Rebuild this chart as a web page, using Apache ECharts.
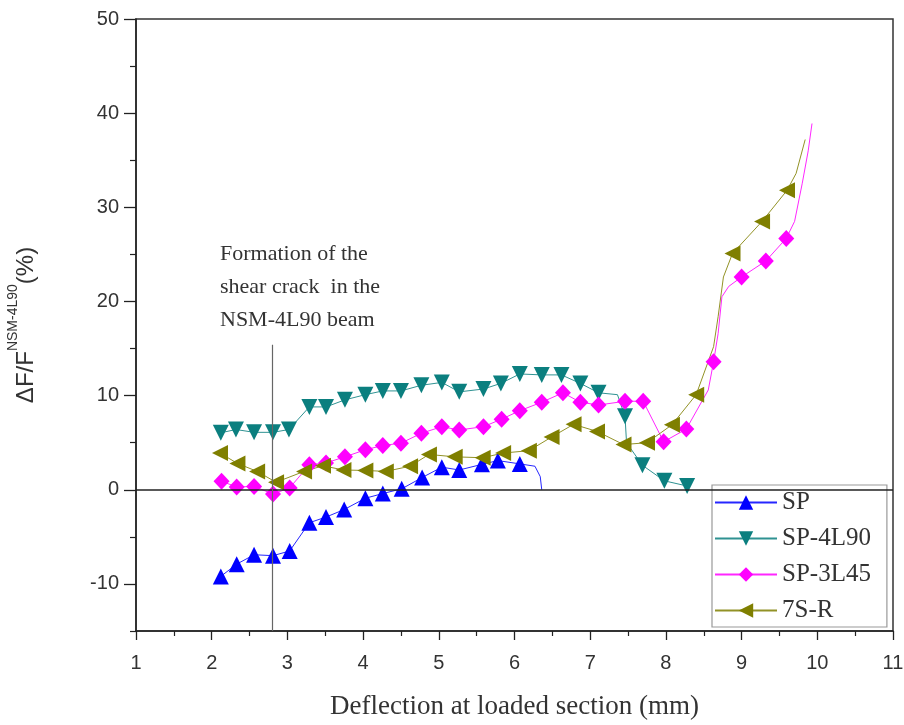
<!DOCTYPE html>
<html><head><meta charset="utf-8">
<script src="https://cdn.jsdelivr.net/npm/echarts@6/dist/echarts.min.js"></script>
<style>html,body{margin:0;padding:0;background:#fff}#c{width:904px;height:725px}</style>
</head><body><div id="c"></div>
<script>
// ---- data ----
const seriesNames = ['SP', 'SP-4L90', 'SP-3L45', '7S-R'];

// SP (marked points + extra curve points)
const spX = [2.12, 2.33, 2.56, 2.81, 3.03, 3.29, 3.51, 3.75, 4.03, 4.26, 4.51, 4.78, 5.04, 5.27, 5.57, 5.78, 6.07];
const spY = [-9.2, -7.9, -6.9, -7.0, -6.5, -3.5, -2.9, -2.1, -0.9, -0.4, 0.1, 1.3, 2.4, 2.1, 2.7, 3.1, 2.75];
const spCurveX = [6.27, 6.34, 6.36];
const spCurveY = [2.5, 1.4, 0.0];

// SP-4L90
const s4X = [2.12, 2.32, 2.56, 2.81, 3.02, 3.29, 3.51, 3.76, 4.03, 4.26, 4.50, 4.77, 5.04, 5.27, 5.59, 5.82, 6.07, 6.36, 6.62, 6.87, 7.11, 7.46, 7.69, 7.98, 8.28];
const s4Y = [6.05, 6.4, 6.1, 6.1, 6.4, 8.8, 8.8, 9.55, 10.1, 10.5, 10.5, 11.1, 11.4, 10.4, 10.7, 11.3, 12.3, 12.2, 12.2, 11.3, 10.3, 7.8, 2.6, 0.95, 0.4];
const s4CurveX = [7.36, 7.48];
const s4CurveY = [10.1, 5.0];

// SP-3L45
const s3X = [2.13, 2.33, 2.56, 2.81, 3.03, 3.29, 3.51, 3.76, 4.03, 4.26, 4.50, 4.77, 5.04, 5.27, 5.59, 5.83, 6.07, 6.36, 6.64, 6.87, 7.11, 7.46, 7.70, 7.97, 8.27, 8.63, 9.00, 9.32, 9.59];
const s3Y = [0.9, 0.3, 0.35, -0.45, 0.2, 2.65, 2.85, 3.5, 4.25, 4.7, 4.95, 6.0, 6.7, 6.35, 6.7, 7.5, 8.4, 9.3, 10.3, 9.3, 9.0, 9.4, 9.4, 5.1, 6.45, 13.6, 22.6, 24.3, 26.7];
const s3CurveX = [8.56, 8.69, 8.74, 8.83, 9.70, 9.80, 9.88, 9.93];
const s3CurveY = [10.6, 16.6, 20.5, 21.6, 28.5, 32.5, 36.0, 38.9];

// 7S-R
const s7X = [2.11, 2.34, 2.60, 2.85, 3.22, 3.47, 3.74, 4.03, 4.30, 4.62, 4.87, 5.21, 5.58, 5.85, 6.19, 6.49, 6.78, 7.09, 7.44, 7.75, 8.08, 8.40, 8.88, 9.27, 9.60];
const s7Y = [3.9, 2.8, 1.95, 0.8, 1.95, 2.55, 2.1, 2.05, 1.95, 2.5, 3.75, 3.5, 3.4, 3.9, 4.15, 5.6, 6.95, 6.2, 4.8, 5.0, 6.9, 10.1, 25.1, 28.5, 31.8];
const s7CurveX = [8.63, 8.69, 8.76, 9.72, 9.84];
const s7CurveY = [15.2, 18.4, 22.6, 33.6, 37.2];

// axes
const xTickValues = [1, 2, 3, 4, 5, 6, 7, 8, 9, 10, 11];
const yLabelValues = [-10, 0, 10, 20, 30, 40, 50];
const yMinorValues = [-15, -5, 5, 15, 25, 35, 45];
const crackX = 2.8;
const crackTop = 15.4;
const annotation = ['Formation of the', 'shear crack  in the', 'NSM-4L90 beam'];

// ---- build ----
function pts(xs, ys) { return xs.map((x, i) => [x, ys[i]]); }
function makeSeries(name, mx, my, cx, cy, color, symbol, rotate, size, extra) {
  const marks = pts(mx, my);
  const path = marks.concat(pts(cx, cy)).sort((a, b) => a[0] - b[0]);
  const line = {
    type: 'line', name: name, data: path, showSymbol: false,
    symbol: symbol, symbolRotate: rotate, symbolSize: size,
    lineStyle: { color: color, width: 1, opacity: 0.85 },
    itemStyle: { color: color }, z: 2, silent: true
  };
  Object.assign(line, extra || {});
  const sc = {
    type: 'scatter', name: name, data: marks, symbol: symbol,
    symbolRotate: rotate, symbolSize: size, itemStyle: { color: color, opacity: 1 }, z: 3, silent: true
  };
  return [line, sc];
}

const series = [].concat(
  makeSeries(seriesNames[0], spX, spY, spCurveX, spCurveY, '#0000ff', 'triangle', 0, 16, {
    markLine: {
      silent: true, symbol: 'none', label: { show: false }, animation: false,
      data: [
        [{ coord: [1, 0], lineStyle: { color: '#222', width: 1.6, type: 'solid' } }, { coord: [11, 0] }],
        [{ coord: [crackX, crackTop], lineStyle: { color: '#666', width: 1.2, type: 'solid' } }, { coord: [crackX, -15] }]
      ]
    }
  }),
  makeSeries(seriesNames[1], s4X, s4Y, s4CurveX, s4CurveY, '#0b7f7f', 'triangle', 180, 16),
  makeSeries(seriesNames[2], s3X, s3Y, s3CurveX, s3CurveY, '#ff00ff', 'diamond', 0, [16, 17]),
  makeSeries(seriesNames[3], s7X, s7Y, s7CurveX, s7CurveY, '#7f7f00', 'triangle', 90, 16)
);

const chart = echarts.init(document.getElementById('c'), null, { renderer: 'canvas' });
chart.setOption({
  animation: false,
  backgroundColor: '#fff',
  grid: { left: 136, right: 11, top: 19, bottom: 94, show: true, borderColor: '#333', borderWidth: 1.5, backgroundColor: 'transparent', outerBoundsMode: 'none', containLabel: false },
  legend: {
    data: seriesNames, orient: 'vertical', left: 712, top: 485,
    itemWidth: 62, itemHeight: 18, itemGap: 11, itemTextGap: 10,
    padding: [5, 16, 4, 2],
    backgroundColor: '#fff', borderColor: '#999', borderWidth: 1.2,
    textStyle: { fontFamily: 'Liberation Serif', fontSize: 25, color: '#333' },
    selectedMode: false
  },
  xAxis: {
    type: 'value', min: 1, max: 11, interval: 1,
    name: 'Deflection at loaded section (mm)', nameLocation: 'middle', nameGap: 62,
    nameTextStyle: { fontFamily: 'Liberation Serif', fontSize: 27, color: '#333' },
    axisLine: { show: true, onZero: false, lineStyle: { color: '#222', width: 1.5 } },
    axisTick: { show: true, length: 9, lineStyle: { color: '#222', width: 1.3 }, customValues: xTickValues },
    minorTick: { show: true, splitNumber: 2, length: 5, lineStyle: { color: '#222', width: 1.2 } },
    axisLabel: { margin: 22, fontFamily: 'Liberation Sans', fontSize: 20, color: '#333', customValues: xTickValues },
    splitLine: { show: false }
  },
  yAxis: [{
    type: 'value', min: -15, max: 50,
    name: '{a|ΔF/F}{b|NSM-4L90}{a|(%)}', nameLocation: 'middle', nameGap: 98, nameRotate: 90,
    nameTextStyle: {
      rich: {
        a: { fontFamily: 'Liberation Sans', fontSize: 24, color: '#333', lineHeight: 32, verticalAlign: 'bottom' },
        b: { fontFamily: 'Liberation Sans', fontSize: 14, color: '#333', lineHeight: 32, verticalAlign: 'top' }
      }
    },
    axisLine: { show: true, onZero: false, lineStyle: { color: '#222', width: 1.5 } },
    axisTick: { show: true, length: 12, lineStyle: { color: '#222', width: 1.3 }, customValues: yLabelValues },
    axisLabel: { margin: 17, fontFamily: 'Liberation Sans', fontSize: 20, color: '#333', customValues: yLabelValues },
    splitLine: { show: false }
  }, {
    type: 'value', min: -15, max: 50, position: 'left',
    axisLine: { show: false },
    axisTick: { show: true, length: 6, lineStyle: { color: '#222', width: 1.2 }, customValues: yMinorValues },
    axisLabel: { show: false },
    splitLine: { show: false }
  }],
  graphic: [{
    type: 'text', left: 220, top: 238, silent: true,
    style: { text: annotation.join('\n'), font: '22px "Liberation Serif"', fill: '#333', lineHeight: 33 }
  }],
  series: series
});
</script>
</body></html>
